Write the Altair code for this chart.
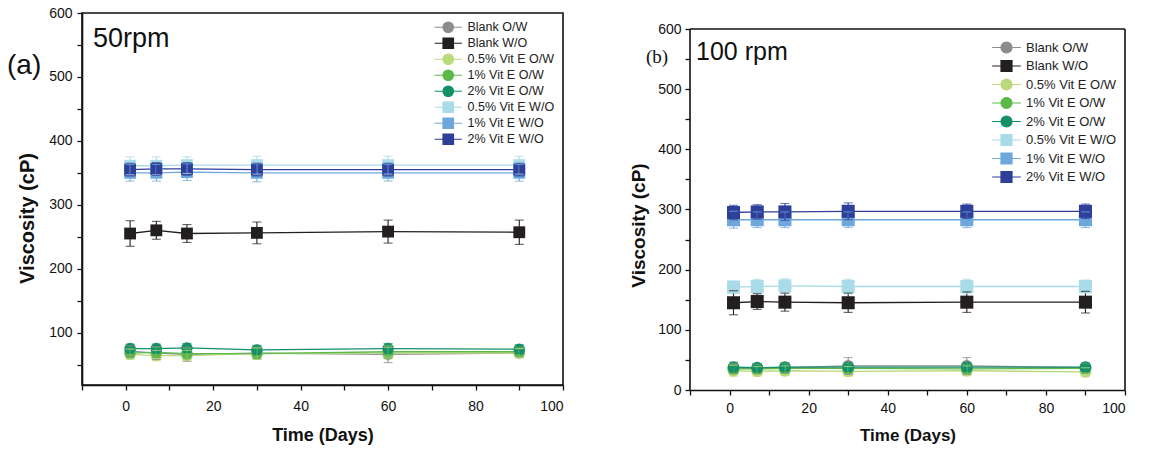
import altair as alt
import pandas as pd

days = [1, 7, 14, 30, 60, 90]
series = ["Blank O/W", "Blank W/O", "0.5% Vit E O/W", "1% Vit E O/W", "2% Vit E O/W",
          "0.5% Vit E W/O", "1% Vit E W/O", "2% Vit E W/O"]
colors = ["#8c8c8c", "#231f20", "#bad97a", "#5cb848", "#13906a", "#a9dce8", "#6ea7dc", "#2e3f9a"]
markers = ["circle", "square", "circle", "circle", "circle", "square", "square", "square"]

# ---- (a) 50 rpm ----
a_vals = {
    "Blank O/W":      [71, 68, 66, 68, 66, 68],
    "Blank W/O":      [255, 260, 255, 256, 258, 257],
    "0.5% Vit E O/W": [66, 64, 64, 67, 68, 68],
    "1% Vit E O/W":   [68, 69, 67, 67, 70, 70],
    "2% Vit E O/W":   [75, 75, 76, 73, 75, 74],
    "0.5% Vit E W/O": [361, 361, 362, 362, 362, 362],
    "1% Vit E W/O":   [350, 350, 351, 350, 350, 350],
    "2% Vit E W/O":   [355, 356, 356, 355, 355, 355],
}
a_errs = {
    "Blank O/W":      [8, 10, 11, 9, 13, 7],
    "Blank W/O":      [20, 14, 14, 17, 18, 19],
    "0.5% Vit E O/W": [8, 8, 8, 9, 9, 7],
    "1% Vit E O/W":   [7, 8, 8, 8, 10, 7],
    "2% Vit E O/W":   [7, 7, 7, 7, 8, 7],
    "0.5% Vit E W/O": [14, 14, 13, 14, 14, 14],
    "1% Vit E W/O":   [13, 13, 13, 14, 13, 13],
    "2% Vit E W/O":   [10, 10, 10, 10, 10, 10],
}

# ---- (b) 100 rpm ----
b_vals = {
    "Blank O/W":      [36, 36, 37, 40, 40, 37],
    "Blank W/O":      [145, 147, 146, 145, 146, 146],
    "0.5% Vit E O/W": [32, 31, 32, 31, 32, 30],
    "1% Vit E O/W":   [35, 35, 36, 36, 35, 36],
    "2% Vit E O/W":   [38, 37, 38, 38, 38, 38],
    "0.5% Vit E W/O": [171, 172, 173, 172, 172, 172],
    "1% Vit E W/O":   [283, 283, 283, 283, 283, 283],
    "2% Vit E W/O":   [295, 296, 296, 297, 297, 297],
}
b_errs = {
    "Blank O/W":      [8, 8, 8, 14, 14, 8],
    "Blank W/O":      [20, 13, 15, 16, 17, 18],
    "0.5% Vit E O/W": [9, 8, 8, 8, 8, 7],
    "1% Vit E O/W":   [8, 8, 8, 8, 8, 8],
    "2% Vit E O/W":   [8, 7, 7, 7, 7, 7],
    "0.5% Vit E W/O": [10, 12, 12, 12, 12, 11],
    "1% Vit E W/O":   [14, 13, 13, 13, 13, 13],
    "2% Vit E W/O":   [12, 12, 14, 14, 12, 12],
}

x_ticks = list(range(-10, 101, 10))
y_ticks = list(range(0, 601, 50))
X_MIN, X_MAX, Y_MAX = -10, 100, 600

CIRCLE_PATH = "M-2.6,0H-1M-1,0A1,1 0 1,1 1,0A1,1 0 1,1 -1,0ZM1,0H2.6"
SQUARE_PATH = "M-2.6,0H-1M-1,-1H1V1H-1ZM1,0H2.6"
legend_paths = [CIRCLE_PATH if m == "circle" else SQUARE_PATH for m in markers]

FONT = "Liberation Sans"
INK = "#111111"


def build_df(vals, errs):
    rows = []
    for si, s in enumerate(series):
        for d, v, e in zip(days, vals[s], errs[s]):
            rows.append({"Series": s, "order": si, "marker": markers[si], "Day": d,
                         "V": v, "lo": v - e, "hi": v + e})
    return pd.DataFrame(rows)


def panel(df, w, h, ydom, pt_sq, pt_ci, xt_size, yt_size, lab_pad_x, title_pad_x,
          lab_pad_y, title_pad_y, title_y, leg, y_domain_line=True, frame=False):
    base = alt.Chart(df)
    xaxis = alt.Axis(values=x_ticks, labelExpr="datum.value % 20 == 0 ? datum.label : ''",
                     labelOverlap=False, title="Time (Days)", titleFontSize=xt_size,
                     labelPadding=lab_pad_x, titlePadding=title_pad_x, grid=False)
    yaxis = alt.Axis(values=[t for t in y_ticks if t >= ydom[0]],
                     labelExpr="datum.value % 100 == 0 ? datum.label : ''",
                     labelOverlap=False, title="Viscosity (cP)", titleFontSize=yt_size,
                     labelPadding=lab_pad_y, titlePadding=title_pad_y, titleY=title_y,
                     grid=False, domain=y_domain_line)
    xscale = alt.Scale(domain=[X_MIN, X_MAX], nice=False, zero=False)
    yscale = alt.Scale(domain=ydom, nice=False, zero=False)
    x = alt.X("Day:Q", scale=xscale, axis=xaxis)
    y = alt.Y("V:Q", scale=yscale, axis=yaxis)
    ylo = alt.Y("lo:Q", scale=yscale, axis=yaxis)
    yhi = alt.Y("hi:Q", scale=yscale, axis=yaxis)
    # colour scale for the drawn marks (domain listed in reverse so it is kept apart
    # from the legend's scales; mapping is identical)
    col = alt.Color("Series:N", scale=alt.Scale(domain=series[::-1], range=colors[::-1]),
                    legend=None)

    legend_layer = base.mark_point(filled=True, opacity=1, size=1, strokeWidth=0.5).encode(
        x=x, y=y,
        fill=alt.Fill("Series:N", scale=alt.Scale(domain=series, range=colors), legend=leg),
        stroke=alt.Stroke("Series:N", scale=alt.Scale(domain=series, range=colors), legend=leg),
        shape=alt.Shape("Series:N", scale=alt.Scale(domain=series, range=legend_paths), legend=leg),
    )
    lines = base.mark_line(strokeWidth=1.3).encode(x=x, y=y, color=col, order="Day:Q",
                                                    detail="Series:N")
    circles = base.transform_filter(alt.datum.marker == "circle").mark_point(
        shape="circle", filled=True, size=pt_ci, opacity=1).encode(x=x, y=y, color=col)
    squares = base.transform_filter(alt.datum.marker == "square").mark_point(
        shape="square", filled=True, size=pt_sq, opacity=1).encode(x=x, y=y, color=col)
    bars = base.mark_rule(strokeWidth=1.1).encode(x=x, y=ylo, y2="hi:Q", color=col)
    caps_lo = base.mark_tick(orient="horizontal", size=9, thickness=1.1).encode(
        x=x, y=ylo, color=col)
    caps_hi = base.mark_tick(orient="horizontal", size=9, thickness=1.1).encode(
        x=x, y=yhi, color=col)
    layers = [legend_layer, lines, circles, squares, bars, caps_lo, caps_hi]
    if frame:
        one = alt.Chart(pd.DataFrame({"k": [0]}))
        fx0 = alt.X(datum=X_MIN, type="quantitative", scale=xscale, axis=xaxis)
        fx1 = alt.X(datum=X_MAX, type="quantitative", scale=xscale, axis=xaxis)
        fy0 = alt.Y(datum=0, type="quantitative", scale=yscale, axis=yaxis)
        fytop = alt.Y(datum=Y_MAX, type="quantitative", scale=yscale, axis=yaxis)
        left = one.mark_rule(color=INK, strokeWidth=1.6).encode(
            x=fx0, y=fy0, y2=alt.Y2(datum=Y_MAX))
        right = one.mark_rule(color=INK, strokeWidth=1.6).encode(
            x=fx1, y=fy0, y2=alt.Y2(datum=Y_MAX))
        top = one.mark_rule(color=INK, strokeWidth=1.6).encode(
            x=fx0, x2=alt.X2(datum=X_MAX), y=fytop)
        layers += [left, right, top]
    return alt.layer(*layers).properties(width=w, height=h)


def make_legend(row_pad, sym_size, label_size, **pos):
    return alt.Legend(title=None, padding=0, rowPadding=row_pad, symbolSize=sym_size,
                      symbolStrokeWidth=1.2, labelOffset=13, labelFontSize=label_size,
                      labelFont=FONT, labelColor="#222222", **pos)


df_a = build_df(a_vals, a_errs)
df_b = build_df(b_vals, b_errs)

WA, HA = 481, 372
WB, HB = 435, 361
B_EXTRA = 16                      # panel (b) frame sits this far below panel (a)'s
HB_FULL = HB + B_EXTRA
YB_TOP = Y_MAX * HB_FULL / HB     # scale top so that 600 lands on the frame

pa = panel(df_a, WA, HA, [18, 600], 140, 130, 18, 20, 9, 13, 5, 11, 205,
           make_legend(0, 110, 12.5, orient="top-right", offset=8))
ta = alt.Chart(pd.DataFrame({"t": ["50rpm"]})).mark_text(
    align="left", baseline="alphabetic", fontSize=27, font=FONT, color=INK).encode(
    x=alt.value(11), y=alt.value(34), text="t:N")
la = alt.Chart(pd.DataFrame({"t": ["(a)"]})).mark_text(
    align="left", baseline="alphabetic", fontSize=28, font=FONT, color=INK).encode(
    x=alt.value(-75), y=alt.value(61), text="t:N")
chart_a = alt.layer(pa, ta, la).properties(width=WA, height=HA)

pb = panel(df_b, WB, HB_FULL, [0, YB_TOP], 170, 140, 17, 19, 6, 12, 4, 9, 212,
           make_legend(1.5, 121, 13, orient="none", legendX=310, legendY=28),
           y_domain_line=False, frame=True)
tb = alt.Chart(pd.DataFrame({"t": ["100 rpm"]})).mark_text(
    align="left", baseline="alphabetic", fontSize=25, font=FONT, color=INK).encode(
    x=alt.value(6), y=alt.value(31 + B_EXTRA), text="t:N")
lb = alt.Chart(pd.DataFrame({"t": ["(b)"]})).mark_text(
    align="left", baseline="alphabetic", fontSize=19, font="Liberation Serif", color=INK).encode(
    x=alt.value(-44), y=alt.value(34 + B_EXTRA), text="t:N")
chart_b = alt.layer(pb, tb, lb).properties(
    width=WB, height=HB_FULL, view=alt.ViewBackground(stroke="transparent"))

chart = alt.concat(chart_a, chart_b, columns=2, align="none", spacing=63).resolve_scale(
    x="independent", y="independent", fill="independent", stroke="independent",
    shape="independent", color="independent"
).properties(
    padding={"left": 6, "top": 5, "right": 0, "bottom": 0},
    background="white",
).configure_view(
    stroke=INK, strokeWidth=1.6
).configure_axis(
    domainColor=INK, domainWidth=1.6, tickColor=INK, tickWidth=1.3, tickSize=5,
    labelFont=FONT, labelFontSize=14, labelColor=INK,
    titleFont=FONT, titleFontWeight="bold", titleColor=INK,
)

chart.save("out.html", embed_options={"renderer": "svg", "actions": False})
